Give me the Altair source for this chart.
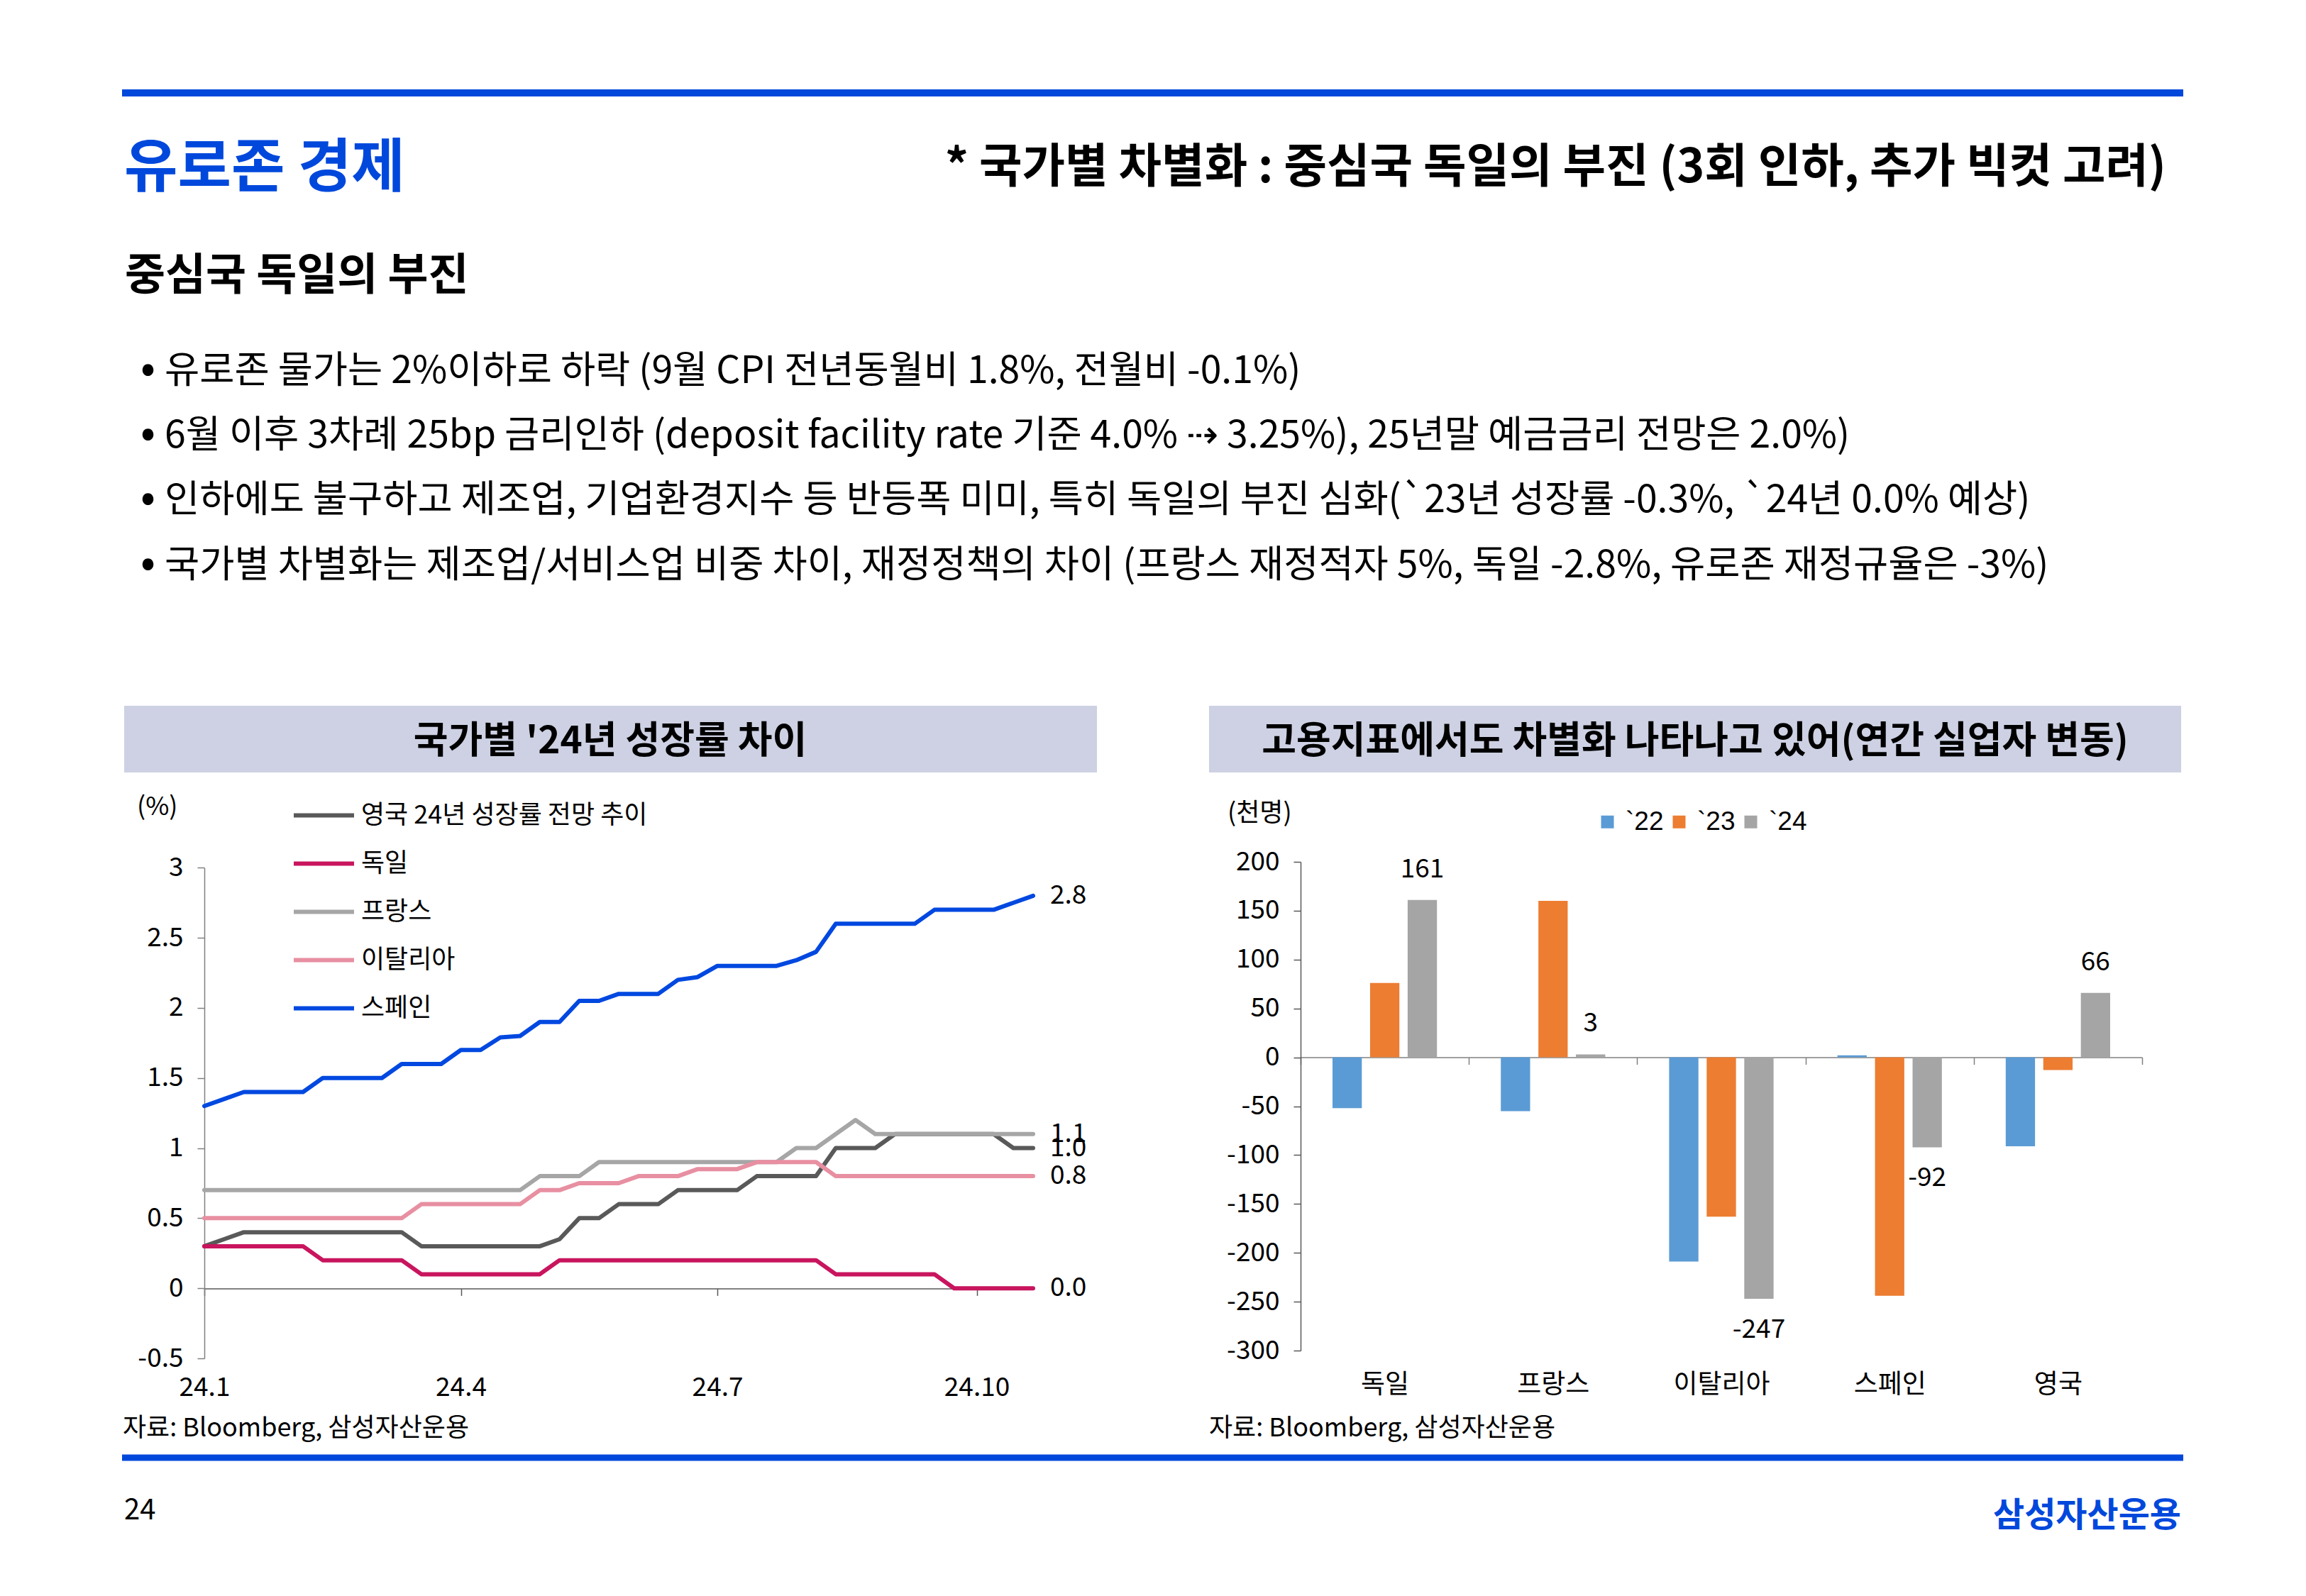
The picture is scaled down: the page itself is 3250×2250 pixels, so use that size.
import altair as alt
import pandas as pd

FONT = "Noto Sans CJK KR"
BLUE = "#0048DC"
BOX = "#CDD1E3"

# ---------------- left chart data (weekly, from 2024-01-01) ----------------
start_date = "2024-01-01"
n_points = 43
series_names = ["영국 24년 성장률 전망 추이", "독일", "프랑스", "이탈리아", "스페인"]
series_colors = ["#595959", "#C8155E", "#A6A6A6", "#E88FA2", "#0048E0"]

uk = [0.30, 0.35, 0.40, 0.40, 0.40, 0.40, 0.40, 0.40, 0.40, 0.40, 0.40,
      0.30, 0.30, 0.30, 0.30, 0.30, 0.30, 0.30, 0.35, 0.50, 0.50,
      0.60, 0.60, 0.60, 0.70, 0.70, 0.70, 0.70, 0.80, 0.80, 0.80, 0.80,
      1.00, 1.00, 1.00, 1.10, 1.10, 1.10, 1.10, 1.10, 1.10, 1.00, 1.00]
germany = [0.30, 0.30, 0.30, 0.30, 0.30, 0.30, 0.20, 0.20, 0.20, 0.20, 0.20,
           0.10, 0.10, 0.10, 0.10, 0.10, 0.10, 0.10, 0.20, 0.20, 0.20,
           0.20, 0.20, 0.20, 0.20, 0.20, 0.20, 0.20, 0.20, 0.20, 0.20, 0.20,
           0.10, 0.10, 0.10, 0.10, 0.10, 0.10, 0.00, 0.00, 0.00, 0.00, 0.00]
france = [0.70, 0.70, 0.70, 0.70, 0.70, 0.70, 0.70, 0.70, 0.70, 0.70, 0.70,
          0.70, 0.70, 0.70, 0.70, 0.70, 0.70, 0.80, 0.80, 0.80, 0.90,
          0.90, 0.90, 0.90, 0.90, 0.90, 0.90, 0.90, 0.90, 0.90, 1.00, 1.00,
          1.10, 1.20, 1.10, 1.10, 1.10, 1.10, 1.10, 1.10, 1.10, 1.10, 1.10]
italy = [0.50, 0.50, 0.50, 0.50, 0.50, 0.50, 0.50, 0.50, 0.50, 0.50, 0.50,
         0.60, 0.60, 0.60, 0.60, 0.60, 0.60, 0.70, 0.70, 0.75, 0.75,
         0.75, 0.80, 0.80, 0.80, 0.85, 0.85, 0.85, 0.90, 0.90, 0.90, 0.90,
         0.80, 0.80, 0.80, 0.80, 0.80, 0.80, 0.80, 0.80, 0.80, 0.80, 0.80]
spain = [1.30, 1.35, 1.40, 1.40, 1.40, 1.40, 1.50, 1.50, 1.50, 1.50, 1.60,
         1.60, 1.60, 1.70, 1.70, 1.79, 1.80, 1.90, 1.90, 2.05, 2.05,
         2.10, 2.10, 2.10, 2.20, 2.22, 2.30, 2.30, 2.30, 2.30, 2.34, 2.40,
         2.60, 2.60, 2.60, 2.60, 2.60, 2.70, 2.70, 2.70, 2.70, 2.75, 2.80]

x_ticks = [(2024, 1, 1), (2024, 4, 1), (2024, 7, 1), (2024, 10, 1)]
x_end = (2024, 10, 21)
y_ticks_left = [-0.5, 0, 0.5, 1, 1.5, 2, 2.5, 3]

# ---------------- right chart data ----------------
countries = ["독일", "프랑스", "이탈리아", "스페인", "영국"]
years = ["`22", "`23", "`24"]
bar_colors = ["#5B9BD5", "#ED7D31", "#A5A5A5"]
v22 = [-52, -55, -209, 2, -91]
v23 = [76, 160, -163, -244, -13]
v24 = [161, 3, -247, -92, 66]
y_ticks_right = [-300, -250, -200, -150, -100, -50, 0, 50, 100, 150, 200]

# ---------------- tables ----------------
dates = [d.strftime("%Y-%m-%dT00:00:00") for d in pd.date_range(start_date, periods=n_points, freq="7D")]
draw_order = [(series_names[0], uk), (series_names[2], france), (series_names[3], italy),
              (series_names[1], germany), (series_names[4], spain)]
line_rows = []
for name, vals in draw_order:
    for d, v in zip(dates, vals):
        line_rows.append({"date": d, "series": name, "value": v})
df_lines = pd.DataFrame(line_rows)
df_end = pd.DataFrame([{"date": dates[-1], "series": n, "value": v[-1]} for n, v in draw_order])

bar_rows = []
for yr, vals in zip(years, [v22, v23, v24]):
    for c, v in zip(countries, vals):
        bar_rows.append({"country": c, "year": yr, "value": v})
df_bars = pd.DataFrame(bar_rows)
df_lab = pd.DataFrame({"country": countries, "year": years[2], "value": v24})

one = pd.DataFrame({"k": [0]})

# panel origins (page pixels of each plot area's top-left)
LO = (288, 1215)
RO = (1833, 1215)


def txt(s, px, py, size, origin, color="#000000", weight="normal", align="left"):
    return alt.Chart(one).mark_text(
        text=s, align=align, baseline="alphabetic", fontSize=size,
        fontWeight=weight, color=color, font=FONT
    ).encode(x=alt.value(px - origin[0]), y=alt.value(py - origin[1]))


def hrule(x1, x2, py, width, origin, color=BLUE):
    return alt.Chart(one).mark_rule(color=color, strokeWidth=width).encode(
        x=alt.value(x1 - origin[0]), x2=alt.value(x2 - origin[0]), y=alt.value(py - origin[1]))


def box(x1, x2, y1, y2, origin, color=BOX, opacity=1.0):
    return alt.Chart(one).mark_rect(color=color, opacity=opacity).encode(
        x=alt.value(x1 - origin[0]), x2=alt.value(x2 - origin[0]),
        y=alt.value(y1 - origin[1]), y2=alt.value(y2 - origin[1]))


# ---------------- left chart ----------------
L_W, L_H = 1168, 700
dt = lambda t: alt.DateTime(year=t[0], month=t[1], date=t[2])

x_left = alt.X(
    "date:T",
    scale=alt.Scale(domain=[dt(x_ticks[0]), dt(x_end)], nice=False),
    axis=alt.Axis(
        values=[dt(t) for t in x_ticks],
        labelExpr="timeFormat(datum.value, '%y') + '.' + (month(datum.value) + 1)",
        title=None, offset=-98.6, tickSize=10, labelPadding=112,
        domainColor="#595959", tickColor="#595959", domainWidth=1.5, tickWidth=1.5,
        labelFontSize=37, labelColor="#000000", grid=False, labelFlush=False,
        labelOverlap=False, labelFont=FONT),
)
y_left = alt.Y(
    "value:Q",
    scale=alt.Scale(domain=[-0.5, 3], range=[700, 8.3], nice=False, zero=False),
    axis=alt.Axis(
        values=y_ticks_left, labelExpr="'' + datum.value", title=None,
        tickSize=10, labelPadding=20, domainColor="#808080", tickColor="#808080",
        domainWidth=1.5, tickWidth=1.5, grid=False, labelFontSize=37,
        labelColor="#000000", labelFont=FONT),
)

lines = alt.Chart(df_lines).mark_line(strokeWidth=6, strokeJoin="round", strokeCap="round").encode(
    x=x_left, y=y_left,
    color=alt.Color(
        "series:N", scale=alt.Scale(domain=series_names, range=series_colors),
        legend=alt.Legend(
            orient="none", legendX=123, legendY=-111, title=None, direction="vertical",
            symbolType="stroke", symbolSize=7225, symbolStrokeWidth=6,
            labelFontSize=36, labelFont=FONT, labelColor="#000000", labelLimit=0,
            rowPadding=4, labelOffset=7, padding=0)),
)
end_labels = alt.Chart(df_end).transform_calculate(
    lab="format(datum.value, '.1f')"
).mark_text(align="left", baseline="middle", dx=24, fontSize=37, color="#000000", font=FONT).encode(
    x=x_left, y=y_left, text="lab:N")

left_deco = [
    box(8, 9, 8, 9, LO, color="#FFFFFF", opacity=0),
    box(3238, 3239, 2238, 2239, LO, color="#FFFFFF", opacity=0),
    hrule(172, 3077, 131, 10, LO),
    txt("유로존 경제", 175, 263, 82, LO, color=BLUE, weight="bold"),
    txt("* 국가별 차별화 : 중심국 독일의 부진 (3회 인하, 추가 빅컷 고려)", 3053, 257, 65.8, LO,
        weight="bold", align="right"),
    txt("중심국 독일의 부진", 176, 409, 62, LO, weight="bold"),
]
bullets = [
    "유로존 물가는 2%이하로 하락 (9월 CPI 전년동월비 1.8%, 전월비 -0.1%)",
    "6월 이후 3차례 25bp 금리인하 (deposit facility rate 기준 4.0% ⇢ 3.25%), 25년말 예금금리 전망은 2.0%)",
    "인하에도 불구하고 제조업, 기업환경지수 등 반등폭 미미, 특히 독일의 부진 심화(`23년 성장률 -0.3%, `24년 0.0% 예상)",
    "국가별 차별화는 제조업/서비스업 비중 차이, 재정정책의 차이 (프랑스 재정적자 5%, 독일 -2.8%, 유로존 재정규율은 -3%)",
]
for i, b in enumerate(bullets):
    base = [540, 631, 722, 814][i]
    left_deco.append(txt("•", 198, base, 62, LO))
    left_deco.append(txt(b, 232, base, 53.5, LO))
left_deco += [
    box(175, 1546, 995, 1089, LO),
    txt("국가별 '24년 성장률 차이", 860, 1062, 53, LO, weight="bold", align="center"),
    txt("(%)", 193, 1149, 36, LO),
    txt("자료: Bloomberg, 삼성자산운용", 173, 2025, 36, LO),
    hrule(172, 3077, 2055, 9, LO),
    txt("24", 175, 2142, 40, LO),
    txt("삼성자산운용", 3074, 2152, 48, LO, color=BLUE, weight="bold", align="right"),
]

left = alt.layer(*left_deco, lines, end_labels).properties(width=L_W, height=L_H)

# ---------------- right chart ----------------
R_W, R_H = 1186, 689
x_right = alt.X(
    "country:N", sort=countries,
    scale=alt.Scale(paddingInner=0, paddingOuter=0),
    axis=alt.Axis(title=None, orient="bottom", offset=-413.4, tickBand="extent",
                  tickSize=10, labelPadding=434, labelAngle=0, domainColor="#808080",
                  tickColor="#808080", domainWidth=1.5, tickWidth=1.5, labelFontSize=37,
                  labelColor="#000000", labelFont=FONT, grid=False),
)
xo_right = alt.XOffset("year:N", sort=years, scale=alt.Scale(paddingInner=0.22, paddingOuter=0.85))
y_right = alt.Y(
    "value:Q", scale=alt.Scale(domain=[-300, 200], nice=False, zero=False),
    axis=alt.Axis(values=y_ticks_right, labelExpr="'' + datum.value", title=None,
                  tickSize=10, labelPadding=20, domainColor="#595959", tickColor="#595959",
                  domainWidth=1.5, tickWidth=1.5, grid=False, labelFontSize=37,
                  labelColor="#000000", labelFont=FONT),
)
bars = alt.Chart(df_bars).mark_bar().encode(
    x=x_right, xOffset=xo_right, y=y_right,
    color=alt.Color(
        "year:N", scale=alt.Scale(domain=years, range=bar_colors),
        legend=alt.Legend(orient="none", legendX=414, legendY=-75, title=None,
                          direction="horizontal", symbolType="square", symbolSize=324,
                          symbolStrokeWidth=0, labelFontSize=37, labelFont="Liberation Sans",
                          labelColor="#000000", labelOffset=7, columnPadding=3, padding=0)),
)
lab_pos = alt.Chart(df_lab).transform_filter("datum.value >= 0").transform_calculate(
    lab="'' + datum.value").mark_text(baseline="bottom", dy=-24, fontSize=37, color="#000000",
                                      font=FONT).encode(x=x_right, xOffset=xo_right, y=y_right, text="lab:N")
lab_neg = alt.Chart(df_lab).transform_filter("datum.value < 0").transform_calculate(
    lab="'' + datum.value").mark_text(baseline="top", dy=26, fontSize=37, color="#000000",
                                      font=FONT).encode(x=x_right, xOffset=xo_right, y=y_right, text="lab:N")

right_deco = [
    box(1704, 3074, 995, 1089, RO),
    txt("고용지표에서도 차별화 나타나고 있어(연간 실업자 변동)", 2389, 1062, 53, RO, weight="bold", align="center"),
    txt("(천명)", 1730, 1158, 36, RO),
    txt("자료: Bloomberg, 삼성자산운용", 1704, 2025, 36, RO),
]
right = alt.layer(*right_deco, bars, lab_pos, lab_neg).properties(width=R_W, height=R_H)

chart = alt.hconcat(left, right, spacing=377, bounds="flush").resolve_scale(
    color="independent"
).properties(
    padding=0
).configure(font=FONT).configure_view(stroke=None)

chart.save("out.html", embed_options={"renderer": "svg", "actions": False})
